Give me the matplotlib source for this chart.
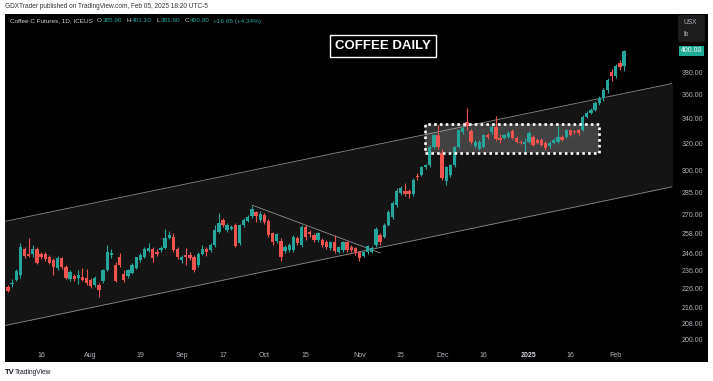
import numpy as np
import pandas as pd
import matplotlib
matplotlib.use('Agg')
import matplotlib.pyplot as plt
from matplotlib.patches import Rectangle, FancyBboxPatch
from matplotlib.ticker import NullLocator

plt.rcParams['font.family'] = ['Liberation Sans', 'DejaVu Sans']

# ICE coffee sessions, Jul 3 2024 -> Feb 5 2025
holidays = ['2024-07-04', '2024-09-02', '2024-11-28', '2024-12-25', '2025-01-01', '2025-01-20']
dates = pd.bdate_range('2024-07-03', '2025-02-05', freq='C', holidays=holidays)

opens = [227.0, 228.6, 230.7, 233.4, 248.5, 245.5, 245.5, 248.5, 245.5, 245.5,
         243.5, 242.0, 237.5, 243.0, 238.0, 231.0, 233.0, 231.7, 232.4, 231.8,
         230.7, 228.0, 228.0, 230.0, 236.5, 245.0, 239.0, 243.5, 234.0, 232.8,
         234.6, 237.6, 242.0, 243.7, 247.3, 248.5, 247.0, 247.9, 249.1, 255.2,
         255.8, 248.5, 242.0, 245.0, 245.0, 243.5, 239.0, 245.8, 248.5, 247.9,
         250.9, 258.9, 266.4, 260.1, 261.0, 263.0, 252.0, 263.0, 266.0, 269.0,
         271.5, 266.5, 270.0, 265.5, 258.0, 253.3, 253.3, 247.3, 247.9, 247.9,
         255.2, 251.0, 262.0, 259.0, 257.0, 254.0, 253.9, 252.6, 249.1, 252.6,
         246.7, 248.0, 252.6, 249.7, 249.0, 246.7, 244.3, 246.7, 246.7, 250.9,
         257.0, 255.8, 263.3, 268.4, 276.2, 284.5, 286.0, 285.5, 283.6, 296.2,
         296.9, 302.3, 304.1, 317.6, 326.9, 313.0, 292.6, 297.0, 304.1, 317.6,
         329.4, 337.3, 330.0, 318.3, 316.0, 317.6, 326.9, 329.1, 333.5, 324.6,
         324.6, 325.4, 330.0, 324.6, 321.5, 319.9, 321.5, 325.4, 323.0, 323.0,
         320.7, 318.3, 320.7, 321.5, 325.4, 325.4, 330.8, 330.0, 330.8, 330.8,
         341.3, 344.7, 347.1, 353.0, 357.3, 364.2, 380.0, 376.5, 388.5, 385.9]
highs = [228.0, 231.0, 237.0, 252.0, 250.0, 255.0, 251.0, 249.5, 247.0, 247.0,
         245.0, 243.0, 244.5, 244.0, 239.0, 236.0, 234.0, 236.0, 237.5, 237.0,
         231.5, 233.0, 229.0, 237.0, 251.0, 248.5, 241.0, 246.0, 236.0, 237.0,
         240.0, 244.0, 246.0, 249.5, 252.0, 249.5, 248.5, 250.5, 261.0, 259.5,
         258.0, 249.5, 245.0, 249.0, 247.0, 245.0, 247.0, 251.0, 249.5, 252.0,
         263.3, 271.0, 268.0, 264.5, 263.0, 264.5, 264.0, 267.5, 270.0, 275.5,
         272.5, 272.0, 271.0, 267.0, 259.0, 258.5, 255.0, 251.0, 252.0, 257.0,
         256.5, 263.5, 263.0, 260.0, 258.0, 259.0, 255.0, 254.0, 253.5, 257.0,
         250.5, 253.5, 253.5, 251.0, 250.0, 247.5, 247.5, 251.0, 250.5, 262.0,
         258.5, 264.5, 273.0, 279.0, 287.5, 289.0, 291.0, 287.0, 294.5, 298.5,
         303.5, 305.0, 319.0, 328.0, 334.8, 316.0, 303.5, 305.0, 318.5, 332.0,
         334.0, 348.5, 332.0, 323.0, 323.0, 328.0, 328.5, 335.0, 342.5, 328.0,
         328.0, 330.0, 331.5, 326.0, 323.0, 324.6, 330.0, 327.0, 324.5, 324.5,
         322.0, 322.0, 324.5, 334.0, 326.5, 332.0, 332.0, 331.0, 332.0, 343.0,
         346.0, 349.0, 355.0, 359.0, 366.0, 375.0, 383.0, 388.0, 391.0, 401.1]
lows = [224.0, 227.0, 230.0, 232.0, 243.0, 243.5, 244.0, 239.5, 242.5, 241.5,
        239.5, 233.5, 236.5, 237.0, 231.0, 230.0, 230.0, 228.5, 230.0, 228.0,
        226.5, 227.0, 221.5, 229.0, 235.5, 243.0, 229.5, 238.0, 229.5, 232.0,
        234.0, 237.0, 241.0, 243.0, 246.5, 241.0, 244.5, 246.5, 248.5, 254.5,
        247.0, 242.5, 240.5, 239.0, 242.0, 235.0, 238.0, 245.0, 244.5, 247.0,
        250.0, 258.0, 262.0, 259.0, 260.0, 249.5, 251.0, 262.0, 265.0, 268.0,
        265.0, 265.0, 264.0, 256.0, 251.0, 252.0, 241.5, 246.0, 247.0, 247.0,
        251.0, 250.0, 254.0, 256.0, 253.0, 253.0, 250.0, 248.5, 248.0, 246.0,
        246.0, 247.0, 247.0, 247.0, 245.0, 241.5, 243.5, 245.5, 246.0, 250.0,
        251.0, 255.0, 262.5, 267.0, 275.0, 283.0, 282.0, 281.0, 282.5, 293.0,
        296.0, 301.0, 303.0, 316.5, 316.0, 293.5, 289.8, 295.5, 303.0, 316.5,
        328.0, 331.0, 320.0, 317.0, 315.0, 316.5, 324.0, 328.0, 322.5, 320.5,
        323.5, 324.5, 323.5, 320.5, 319.5, 314.0, 320.5, 318.0, 319.5, 318.0,
        315.5, 317.0, 319.5, 320.5, 322.0, 324.5, 326.0, 328.0, 327.0, 330.0,
        340.5, 343.5, 346.0, 351.0, 355.0, 362.0, 372.0, 375.0, 382.0, 381.6]
closes = [224.6, 229.2, 235.6, 249.9, 244.3, 244.5, 248.5, 240.0, 244.0, 242.5,
          240.5, 238.0, 243.0, 238.0, 232.0, 235.0, 231.3, 233.3, 230.8, 229.0,
          227.3, 231.5, 225.2, 236.0, 246.5, 246.0, 230.0, 239.0, 230.7, 236.2,
          239.1, 243.5, 244.9, 248.5, 248.9, 243.0, 245.5, 249.1, 255.2, 257.0,
          248.0, 243.7, 243.7, 243.7, 243.2, 236.2, 245.8, 248.5, 246.5, 250.9,
          260.1, 264.5, 263.0, 263.3, 262.0, 250.3, 263.0, 266.4, 268.5, 273.5,
          269.0, 270.3, 265.0, 257.0, 252.6, 257.6, 243.7, 249.7, 250.9, 255.8,
          252.0, 262.0, 255.8, 257.6, 254.0, 258.2, 250.9, 249.7, 252.6, 247.3,
          249.7, 252.6, 248.0, 248.0, 246.0, 243.0, 246.7, 250.3, 249.1, 260.8,
          252.6, 263.3, 271.6, 277.6, 286.0, 287.5, 283.7, 283.5, 293.3, 295.5,
          302.3, 304.1, 317.6, 326.9, 317.6, 294.7, 302.3, 304.0, 317.6, 330.8,
          332.4, 334.0, 321.5, 321.5, 321.5, 326.9, 325.4, 333.5, 323.8, 323.0,
          326.9, 328.5, 324.6, 321.5, 320.7, 321.5, 328.5, 319.1, 320.7, 319.1,
          316.8, 320.7, 323.0, 325.4, 323.0, 330.8, 326.9, 329.0, 328.5, 341.3,
          344.7, 347.1, 353.0, 357.3, 364.2, 373.1, 376.5, 385.5, 385.2, 400.0]

# drawings on the chart (bar index, price)
channel_x = [-2, 161]
channel_upper = [264.9, 370.2]
channel_lower = [206.2, 288.8]
trend_x = [59, 90]
trend_y = [276.2, 246.2]
box_x = [100.9, 143.0]
box_y = [312.8, 335.4]

price_ticks = [200, 208, 216, 226, 236, 246, 258, 270, 285, 300, 320, 340, 360, 380]
tick_dates = ['2024-07-16', '2024-08-01', '2024-08-19', '2024-09-03', '2024-09-17',
              '2024-10-01', '2024-10-15', '2024-11-01', '2024-11-15', '2024-12-02',
              '2024-12-16', '2025-01-02', '2025-01-16', '2025-02-03']
tick_labels = ['16', 'Aug', '19', 'Sep', '17', 'Oct', '15', 'Nov', '15', 'Dec',
               '16', '2025', '16', 'Feb']

GREEN = '#26a69a'
RED = '#ef5350'
AXIS_TXT = '#b2b5be'

W, H = 713, 381
fig = plt.figure(figsize=(W / 100, H / 100), dpi=100)
fig.patch.set_facecolor('white')


def fx(px):
    return px / W


def fy(py):
    return 1 - py / H


fig.patches.append(Rectangle((fx(5), fy(362)), fx(708) - fx(5), fy(14) - fy(362),
                             transform=fig.transFigure, facecolor='black',
                             edgecolor='none', zorder=-5))

ax = fig.add_axes([fx(5), fy(345), fx(672) - fx(5), fy(14) - fy(345)])
ax.set_facecolor('black')
ax.set_yscale('log')
ax.set_xlim(-0.73, 160.6)
ax.set_ylim(197.3, 437.2)
for s in ax.spines.values():
    s.set_visible(False)

# channel
ax.fill_between(channel_x, channel_lower, channel_upper, color='#141414', lw=0, zorder=1)
ax.plot(channel_x, channel_upper, color='#8c8c8c', lw=0.6, zorder=2)
ax.plot(channel_x, channel_lower, color='#8c8c8c', lw=0.6, zorder=2)
ax.plot(trend_x, trend_y, color='#8c8c8c', lw=0.6, zorder=2)

# candles
x = np.arange(len(dates))
o, h, l, c = map(np.array, (opens, highs, lows, closes))
col = np.where(c >= o, GREEN, RED)
ax.vlines(x, l, h, colors=col, lw=0.8, zorder=3)
ax.bar(x, np.maximum(np.abs(c - o), 0.6), bottom=np.minimum(o, c), width=0.8,
       color=col, lw=0, zorder=4)

# dotted consolidation box
ax.add_patch(Rectangle((box_x[0], box_y[0]), box_x[1] - box_x[0], box_y[1] - box_y[0],
                       facecolor='white', alpha=0.2, edgecolor='none', zorder=2))
ax.add_patch(Rectangle((box_x[0], box_y[0]), box_x[1] - box_x[0], box_y[1] - box_y[0],
                       facecolor='none', edgecolor='white', lw=1.9,
                       linestyle=(0, (1, 1.2)), zorder=5))

# axes ticks
ax.yaxis.set_minor_locator(NullLocator())
ax.yaxis.tick_right()
ax.set_yticks(price_ticks)
ax.set_yticklabels([f'{p:.2f}' for p in price_ticks])
ax.tick_params(axis='y', length=0, pad=7, labelsize=5, labelcolor=AXIS_TXT)

pos = [dates.get_loc(pd.Timestamp(d)) for d in tick_dates]
ax.set_xticks(pos)
ax.set_xticklabels(tick_labels)
ax.tick_params(axis='x', length=0, pad=5, labelsize=5, labelcolor=AXIS_TXT)
for t in ax.get_xticklabels():
    if t.get_text() == '2025':
        t.set_fontweight('bold')
        t.set_color('#d1d4dc')

# last price label
ax.text(1.013, 400, '400.00', transform=ax.get_yaxis_transform(), fontsize=5,
        color='white', va='center', ha='left',
        bbox=dict(boxstyle='square,pad=0.25', facecolor='#22ab94', edgecolor='none'))

# unit box
fig.patches.append(FancyBboxPatch((fx(678), fy(42)), fx(705) - fx(678), fy(15) - fy(42),
                                  boxstyle='round,pad=0,rounding_size=0.004',
                                  transform=fig.transFigure, facecolor='#1c1c1c',
                                  edgecolor='none', zorder=1))
fig.text(fx(683), fy(22), 'USX', fontsize=4.8, color=AXIS_TXT, va='center')
fig.text(fx(683), fy(34), 'lb', fontsize=4.8, color=AXIS_TXT, va='center')

# title
fig.text(fx(383), fy(46), 'COFFEE DAILY', color='white', fontsize=9.5, fontweight='bold',
         ha='center', va='center',
         bbox=dict(boxstyle='square,pad=0.35', facecolor='black', edgecolor='white', lw=1))

# legend line, laid out piece by piece
legend_parts = [('Coffee C Futures, 1D, ICEUS', '#d1d4dc', 4), ('O', '#d1d4dc', 1.2),
                ('385.90', GREEN, 4), ('H', '#d1d4dc', 1.2), ('401.10', GREEN, 4),
                ('L', '#d1d4dc', 1.2), ('381.60', GREEN, 4), ('C', '#d1d4dc', 1.2),
                ('400.00', GREEN, 3), ('+16.65 (+4.34%)', GREEN, 0)]
renderer = fig.canvas.get_renderer()
cur = 10
for txt, colr, gap in legend_parts:
    t = fig.text(fx(cur), fy(21), txt, fontsize=4.6, color=colr, va='center')
    cur += t.get_window_extent(renderer).width + gap

# header and footer
fig.text(fx(5), fy(6), 'GDXTrader published on TradingView.com, Feb 05, 2025 18:20 UTC-5',
         fontsize=4.7, color='#333333', va='center')
fig.text(fx(5), fy(372), 'TV', fontsize=5.5, color='#131722', fontweight='bold', va='center')
fig.text(fx(15), fy(372), 'TradingView', fontsize=4.8, color='#131722', va='center')

fig.savefig('out.png', dpi=100, facecolor='white')
